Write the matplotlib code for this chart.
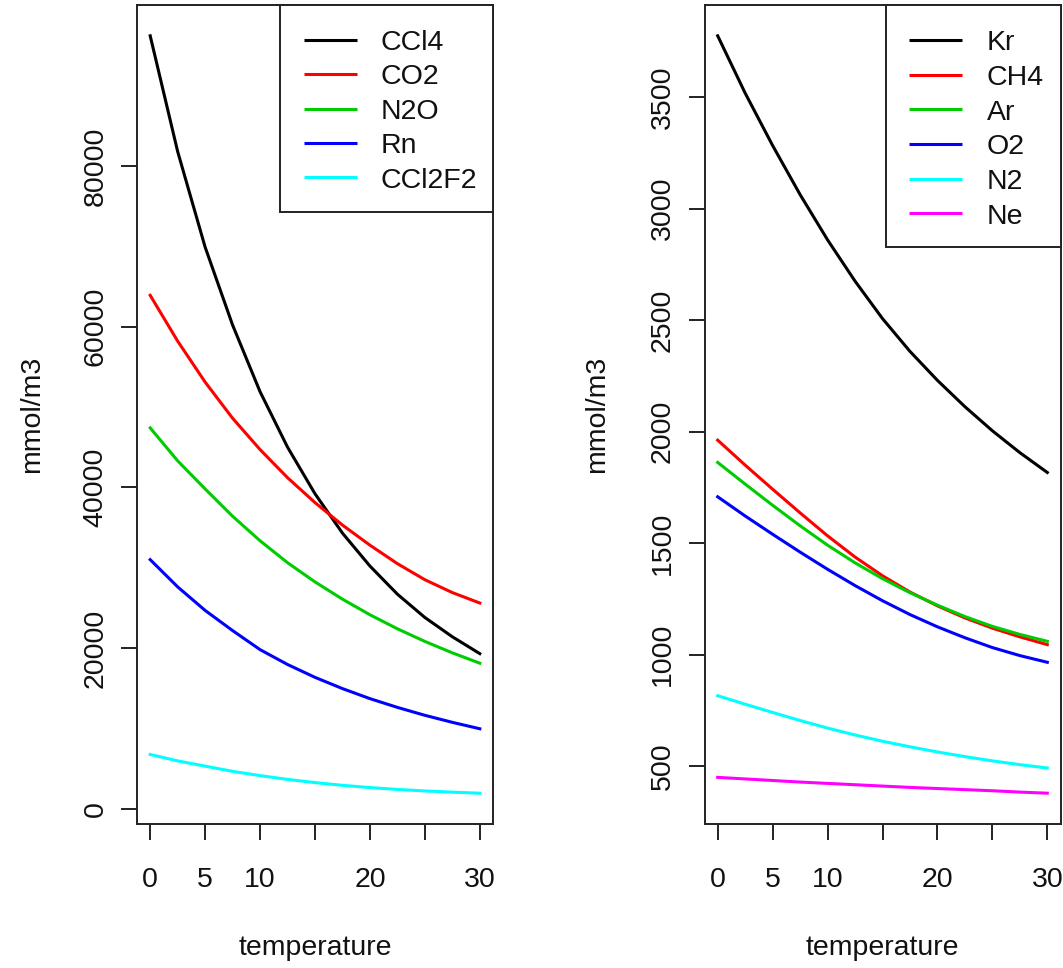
import matplotlib
matplotlib.use("Agg")
import matplotlib.pyplot as plt
from matplotlib.patches import Rectangle

plt.rcParams['font.family'] = ['Liberation Sans', 'DejaVu Sans']

# temperatures (deg C) at which the curves were read
temp = [0, 2.5, 5, 7.5, 10, 12.5, 15, 17.5, 20, 22.5, 25, 27.5, 30]

# left panel, mmol/m3
ccl4 = [96200, 81800, 69900, 60200, 51900, 45000, 39200, 34300, 30200, 26700, 23800, 21400, 19300]
co2 = [63900, 58200, 53100, 48600, 44700, 41200, 38100, 35300, 32800, 30500, 28500, 26900, 25600]
n2o = [47400, 43300, 39800, 36400, 33350, 30620, 28230, 26080, 24140, 22390, 20820, 19400, 18110]
rn = [31000, 27610, 24680, 22170, 19800, 17950, 16350, 14950, 13700, 12610, 11625, 10750, 9950]
ccl2f2 = [6750, 5950, 5300, 4650, 4120, 3650, 3250, 2910, 2630, 2400, 2210, 2060, 1930]

# right panel, mmol/m3
kr = [3775, 3518, 3283, 3063, 2860, 2675, 2507, 2360, 2230, 2112, 2004, 1906, 1817]
ch4 = [1962, 1850, 1742, 1636, 1533, 1438, 1354, 1281, 1219, 1165, 1119, 1080, 1045]
ar = [1862, 1765, 1670, 1578, 1491, 1412, 1341, 1278, 1222, 1171, 1127, 1091, 1060]
o2 = [1708, 1622, 1540, 1460, 1383, 1310, 1242, 1180, 1125, 1076, 1032, 996, 966]
n2 = [816, 778, 741, 705, 671, 640, 612, 587, 564, 543, 524, 507, 492]
ne = [450, 443, 436, 429, 423, 417, 411, 405, 400, 395, 390, 384, 379]

left_names = ['CCl4', 'CO2', 'N2O', 'Rn', 'CCl2F2']
right_names = ['Kr', 'CH4', 'Ar', 'O2', 'N2', 'Ne']
colors = ['black', '#FF0000', '#00CD00', '#0000FF', '#00FFFF', '#FF00FF']

x_ticks = [0, 5, 10, 15, 20, 25, 30]
x_labels = ['0', '5', '10', '', '20', '', '30']
left_yticks = [0, 20000, 40000, 60000, 80000]
right_yticks = [500, 1000, 1500, 2000, 2500, 3000, 3500]

FS = 20.5
W, H = 1063, 968
AX_TOP, AX_BOT = 5.5, 823.5   # pixel rows of the plot box
AX_W = 356

fig = plt.figure(figsize=(W / 100, H / 100), dpi=100)
ax1 = fig.add_axes([137 / W, (H - AX_BOT) / H, AX_W / W, (AX_BOT - AX_TOP) / H])
ax2 = fig.add_axes([704.5 / W, (H - AX_BOT) / H, AX_W / W, (AX_BOT - AX_TOP) / H])


def draw_legend(ax, x0, names, box_left, box_bottom, line_x, text_x, row0, step):
    # R style legend box, positions given in pixels of the figure
    hgt = AX_BOT - AX_TOP
    fx = lambda px: (px - x0) / AX_W
    fy = lambda py: (AX_BOT - py) / hgt
    ax.add_patch(Rectangle((fx(box_left), fy(box_bottom)), 1 - fx(box_left),
                           1 - fy(box_bottom), transform=ax.transAxes,
                           facecolor='white', edgecolor='#222222', lw=1.4,
                           zorder=5, clip_on=False))
    for i, (name, c) in enumerate(zip(names, colors)):
        y = row0 + step * i
        ax.plot([fx(line_x[0]), fx(line_x[1])], [fy(y), fy(y)], color=c, lw=2.2,
                transform=ax.transAxes, zorder=6, solid_capstyle='butt')
        ax.text(fx(text_x), fy(y + 10.2), name, transform=ax.transAxes,
                fontsize=FS, color='#111111', va='baseline', ha='left', zorder=6)


def panel(ax, series, names, yticks, ylab_x):
    for vals, name, c in zip(series, names, colors):
        ax.plot(temp, vals, color=c, lw=2.2, label=name)
    ax.margins(x=0.04, y=0.04)
    ax.set_xticks(x_ticks)
    ax.set_xticklabels(x_labels)
    ax.set_yticks(yticks)
    ax.set_yticklabels([str(v) for v in yticks])
    for s in ax.spines.values():
        s.set_linewidth(1.4)
        s.set_color('#222222')
    ax.tick_params(direction='out', length=11.5, width=1.4, color='#222222',
                   labelsize=FS, labelcolor='#111111')
    ax.tick_params(axis='x', pad=20)
    ax.tick_params(axis='y', pad=9, labelrotation=90)
    for lbl in ax.get_yticklabels():
        lbl.set_va('center')
    ax.set_xlabel('temperature', fontsize=FS, color='#111111', va='baseline')
    ax.xaxis.set_label_coords(0.5, -0.1607)
    ax.set_ylabel('mmol/m3', fontsize=FS, color='#111111', va='center')
    ax.yaxis.set_label_coords(ylab_x, 0.5)


panel(ax1, [ccl4, co2, n2o, rn, ccl2f2], left_names, left_yticks, -0.295)
panel(ax2, [kr, ch4, ar, o2, n2, ne], right_names, right_yticks, -0.301)

draw_legend(ax1, 137, left_names, 280, 212, (303.6, 357.3), 381, 39.9, 34.4)
draw_legend(ax2, 704.5, right_names, 886.2, 247.4, (909, 962.4), 986.5, 40.1, 34.66)

fig.savefig('out.png', dpi=100)
